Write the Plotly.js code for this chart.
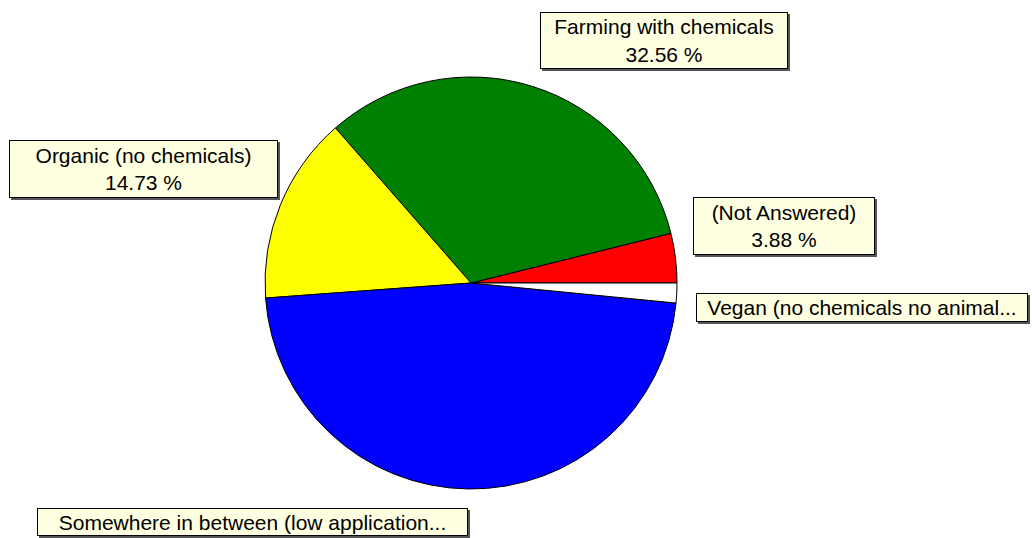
<!DOCTYPE html>
<html>
<head>
<meta charset="utf-8">
<script src="https://cdn.plot.ly/plotly-3.0.1.min.js"></script>
<style>html,body{margin:0;padding:0;background:#fff;}#chart{width:1032px;height:538px;}</style>
</head>
<body>
<div id="chart"></div>
<script>
// Data (counts out of 129 responses)
var categories = ["(Not Answered)", "Farming with chemicals", "Organic (no chemicals)", "Somewhere in between (low application of chemicals)", "Vegan (no chemicals no animal products)"];
var counts = [5, 42, 19, 61, 2];
var sliceColors = ["#FF0000", "#008000", "#FFFF00", "#0000FF", "#FFFFFF"];
var labelTexts = ["(Not Answered)<br>3.88 %", "Farming with chemicals<br>32.56 %", "Organic (no chemicals)<br>14.73 %", "Somewhere in between (low application...", "Vegan (no chemicals no animal..."];

var W = 1032, H = 538;
// label box geometry in pixels: [left, top, width, height]
var boxes = [
  [693, 197, 182, 58],
  [540, 12, 248, 57],
  [9, 140, 269, 58],
  [37, 508, 431, 28],
  [696, 293, 332, 29]
];

var annotations = [];
var shapes = [];
boxes.forEach(function (b, i) {
  // shadow
  shapes.push({type: "rect", xref: "paper", yref: "paper", layer: "above",
    x0: (b[0] + 2) / W, x1: (b[0] + b[2] + 2) / W,
    y0: 1 - (b[1] + b[3] + 2) / H, y1: 1 - (b[1] + 2) / H,
    fillcolor: "#555555", line: {width: 0}});
  annotations.push({
    xref: "paper", yref: "paper",
    x: b[0] / W, y: 1 - b[1] / H, xanchor: "left", yanchor: "top",
    width: b[2] - 4, height: b[3] - 4, align: "center", valign: "middle",
    text: labelTexts[i], showarrow: false,
    bgcolor: "#FFFFE1", bordercolor: "#000000", borderwidth: 1, borderpad: 1,
    font: {family: "Liberation Sans, Arial, sans-serif", size: 21, color: "#000000"}
  });
});

// first slice begins at 3 o'clock and slices run counterclockwise
var total = counts.reduce(function (a, b) { return a + b; }, 0);
var startRotation = 90 - counts[0] / total * 360;

var trace = {
  type: "pie",
  labels: categories,
  values: counts,
  sort: false,
  direction: "counterclockwise",
  rotation: startRotation,
  marker: {colors: sliceColors, line: {color: "#000000", width: 1}},
  textinfo: "none",
  hoverinfo: "label+percent",
  showlegend: false,
  domain: {x: [265 / W, 677 / W], y: [(H - 489) / H, (H - 77) / H]}
};

var layout = {
  width: W, height: H,
  margin: {l: 0, r: 0, t: 0, b: 0},
  paper_bgcolor: "#FFFFFF",
  plot_bgcolor: "#FFFFFF",
  showlegend: false,
  annotations: annotations,
  shapes: shapes
};

Plotly.newPlot("chart", [trace], layout, {displayModeBar: false, staticPlot: true});
</script>
</body>
</html>
